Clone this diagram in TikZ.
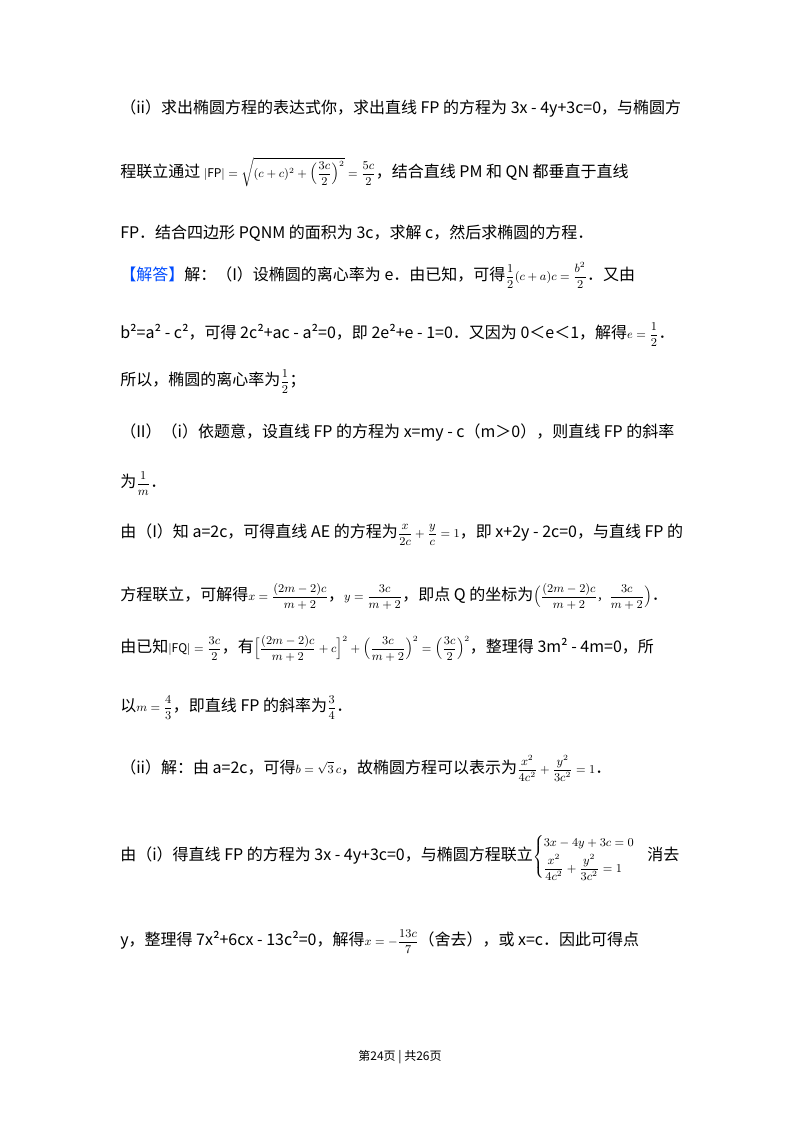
\documentclass[tikz,border=0pt]{standalone}
\usepackage{amsmath}
\usepackage{fontspec}
\setmainfont{Noto Sans CJK SC}
\tikzset{ln/.style={anchor=base west,inner sep=0pt,font=\fontsize{12}{14}\selectfont}}
\newcommand{\fm}[1]{{\small$\displaystyle #1$}}
\begin{document}
\begin{tikzpicture}[x=0.75pt,y=-0.75pt]
\useasboundingbox[fill=white] (0,0) rectangle (800,1132);
\node[ln] (l1) at (120,113) {（ii）求出椭圆方程的表达式你，求出直线 FP 的方程为 3x - 4y+3c=0，与椭圆方};
\node[ln] (l2) at (120,177) {程联立通过 \fm{|\mathrm{FP}|=\sqrt{(c+c)^2+\Big(\frac{3c}{2}\Big)^2}=\frac{5c}{2}}，结合直线 PM 和 QN 都垂直于直线};
\node[ln] (l3) at (120,238) {FP．结合四边形 PQNM 的面积为 3c，求解 c，然后求椭圆的方程．};
\node[ln] (l4) at (120,280) {\textcolor{blue!70!cyan}{【解答】}解：（I）设椭圆的离心率为 e．由已知，可得\fm{\frac{1}{2}(c+a)c=\frac{b^2}{2}}．又由};
\node[ln] (l5) at (120,338) {b²=a² - c²，可得 2c²+ac - a²=0，即 2e²+e - 1=0．又因为 0＜e＜1，解得\fm{e=\frac{1}{2}}．};
\node[ln] (l6) at (120,385) {所以，椭圆的离心率为\fm{\frac{1}{2}}；};
\node[ln] (l7) at (120,437) {（II）（i）依题意，设直线 FP 的方程为 x=my - c（m＞0），则直线 FP 的斜率};
\node[ln] (l8) at (120,487) {为\fm{\frac{1}{m}}．};
\node[ln] (l9) at (120,537) {由（I）知 a=2c，可得直线 AE 的方程为\fm{\frac{x}{2c}+\frac{y}{c}=1}，即 x+2y - 2c=0，与直线 FP 的};
\node[ln] (l10) at (120,600) {方程联立，可解得\fm{x=\frac{(2m-2)c}{m+2}}，\fm{y=\frac{3c}{m+2}}，即点 Q 的坐标为\fm{\Big(\frac{(2m-2)c}{m+2}，\frac{3c}{m+2}\Big)}．};
\node[ln] (l11) at (120,652) {由已知\fm{|\mathrm{FQ}|=\frac{3c}{2}}，有\fm{\Big[\frac{(2m-2)c}{m+2}+c\Big]^2+\Big(\frac{3c}{m+2}\Big)^2=\Big(\frac{3c}{2}\Big)^2}，整理得 3m² - 4m=0，所};
\node[ln] (l12) at (120,711) {以\fm{m=\frac{4}{3}}，即直线 FP 的斜率为\fm{\frac{3}{4}}．};
\node[ln] (l13) at (120,773) {（ii）解：由 a=2c，可得\fm{b=\sqrt{3}\,c}，故椭圆方程可以表示为\fm{\frac{x^2}{4c^2}+\frac{y^2}{3c^2}=1}．};
\node[ln] (l14) at (120,860) {由（i）得直线 FP 的方程为 3x - 4y+3c=0，与椭圆方程联立\fm{\begin{cases}3x-4y+3c=0\\[2pt] \dfrac{x^2}{4c^2}+\dfrac{y^2}{3c^2}=1\end{cases}}消去};
\node[ln] (l15) at (120,945) {y，整理得 7x²+6cx - 13c²=0，解得\fm{x=-\frac{13c}{7}}（舍去），或 x=c．因此可得点};
\node[inner sep=0pt,font=\fontsize{9}{11}\selectfont] (ft) at (400,1057) {第24页 | 共26页};
\end{tikzpicture}
\end{document}
